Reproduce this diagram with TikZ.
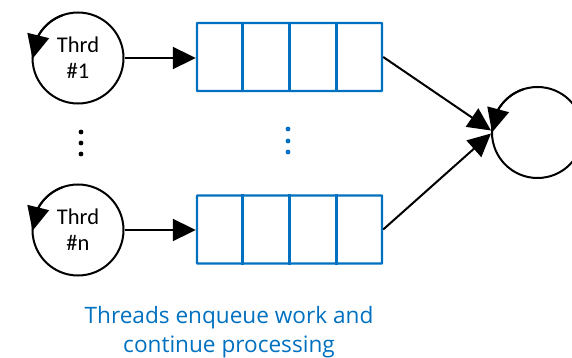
\documentclass[tikz,border=0pt]{standalone}
\usepackage{fontspec}
\setmainfont{Carlito}
\newfontfamily\capfont{Open Sans}
\usetikzlibrary{arrows.meta,calc,bending}
\definecolor{qblue}{RGB}{0,112,192}
\tikzset{
  thrd/.style={circle,draw,line width=2pt,minimum size=91pt,inner sep=0pt,
    align=center,font=\fontsize{22.5}{26}\selectfont},
  sink/.style={circle,draw,line width=2pt,minimum size=91pt,inner sep=0pt},
  queue/.style={draw=qblue,line width=2.4pt,minimum width=185pt,minimum height=68pt,
    inner sep=0pt,rounded corners=0.6pt},
  cellsep/.style={draw=qblue,line width=2.4pt},
  link/.style={line width=2pt,-{Triangle[length=23pt,width=22pt]}},
  loop/.style={line width=2pt,-{Triangle[length=24pt,width=22pt,flex]}},
  dotk/.style={circle,fill=black,inner sep=0pt,minimum size=4.8pt},
  dotb/.style={circle,fill=qblue,inner sep=0pt,minimum size=4.8pt},
  caption/.style={text=qblue,align=center,font=\capfont\fontsize{22.6}{29}\selectfont}
}
\begin{document}
\begin{tikzpicture}[x=1pt,y=1pt]
\useasboundingbox (0,0) rectangle (572,-358);

% threads
\node[thrd] (t1) at (78,-58) {Thrd\\\#1};
\node[thrd] (tn) at (78,-230) {Thrd\\\#n};

% queues
\node[queue] (q1) at (289.5,-57) {};
\node[queue] (qn) at (289.5,-229.5) {};
\foreach \q in {q1,qn}{
  \foreach \f in {0.25,0.5,0.75}{
    \draw[cellsep] ($(\q.north west)!\f!(\q.north east)$) -- ($(\q.south west)!\f!(\q.south east)$);
  }
}

% consumer
\node[sink] (s) at (537.5,-132.5) {};

% self loops on the circles
\draw[loop] ($(t1.center)+(110:45.5)$) arc[start angle=110,end angle=181,radius=45.5];
\draw[loop] ($(tn.center)+(110:45.5)$) arc[start angle=110,end angle=181,radius=45.5];
\draw[loop] ($(s.center)+(108:45.5)$) arc[start angle=108,end angle=180,radius=45.5];

% enqueue
\draw[link] (t1.east) -- (t1.east -| q1.west);
\draw[link] (tn.east) -- (tn.east -| qn.west);

% dequeue
\coordinate (s1) at ($(s.west)+(0,2)$);
\coordinate (s2) at ($(s.west)+(0,-1)$);
\draw[link] (q1.east) -- (s1);
\draw[link] (qn.east) -- (s2);

% ellipses
\node[dotk] (k1) at (81,-132) {};
\node[dotk] (k2) at (81,-143) {};
\node[dotk] (k3) at (81,-154) {};
\node[dotb] (b1) at (288,-129) {};
\node[dotb] (b2) at (288,-141) {};
\node[dotb] (b3) at (288,-152) {};

\node[caption] (cap) at (229,-332) {Threads enqueue work and\\continue processing};
\end{tikzpicture}
\end{document}
